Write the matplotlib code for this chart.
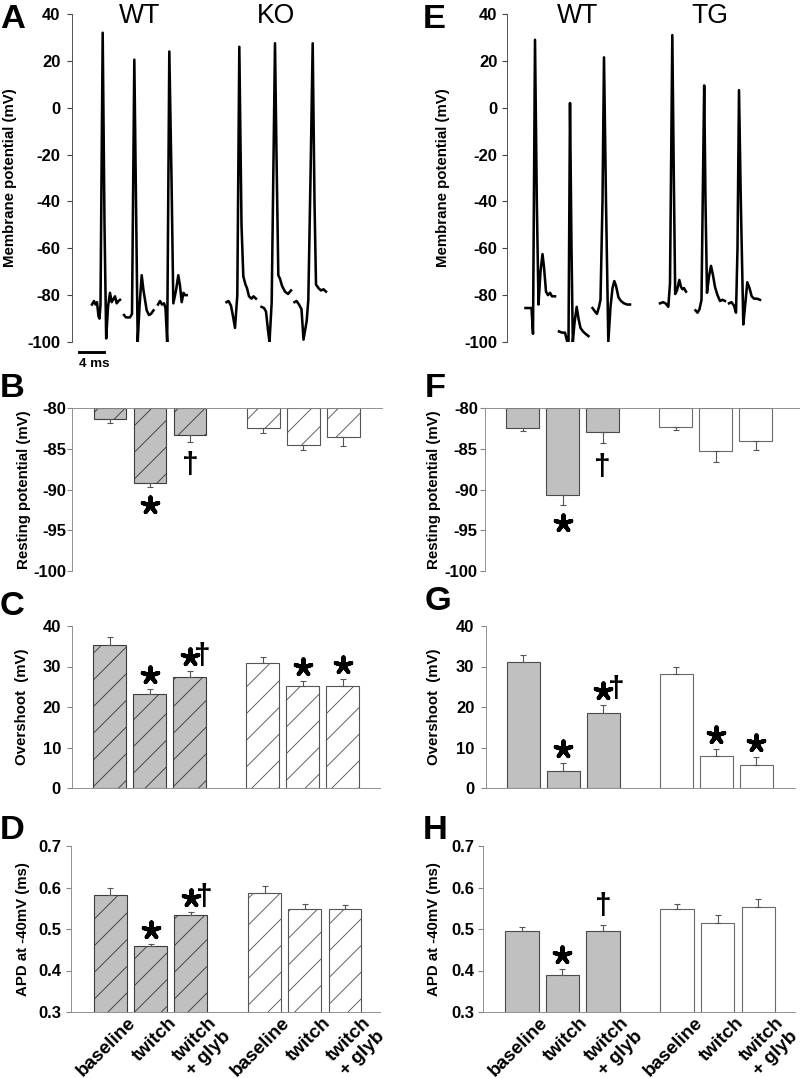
import matplotlib
matplotlib.use("Agg")
import matplotlib.pyplot as plt
from matplotlib.markers import MarkerStyle
from matplotlib.transforms import ScaledTranslation

plt.rcParams["font.family"] = ["Liberation Sans", "DejaVu Sans"]
plt.rcParams["font.weight"] = "bold"
plt.rcParams["hatch.linewidth"] = 0.8

W, H, DPI = 800, 1078, 80

# ---- A: WT vs KO action potentials, time (ms) and membrane potential (mV)
a_wt_t = [
    [3.2, 3.52, 3.76, 4.0, 4.24, 4.4, 4.56, 4.91, 5.2, 5.47, 5.76, 6.08, 6.35, 6.56, 6.88, 7.15, 7.44, 7.68],
    [8.32, 8.64, 9.28, 9.6, 9.97, 10.24, 10.51, 10.8, 11.15, 11.44, 11.95, 12.32, 12.64, 13.04],
    [13.76, 14.08, 14.4, 14.72, 14.96, 15.23, 15.57, 15.92, 16.21, 16.64, 17.01, 17.28, 17.55, 17.84, 18.08, 18.35],
]
a_wt_v = [
    [-84, -82.5, -84, -83, -89, -90, -84, 32, -50, -98.5, -85, -79, -83, -82, -80.5, -83.5, -82.5, -82],
    [-88.5, -89.5, -89.5, -88, 20.5, -40, -100, -85, -71.5, -78, -86.5, -88.5, -88, -86.5],
    [-84, -82.5, -84, -83.5, -85.5, -100, 24, -30, -83.5, -78, -71.5, -76, -83, -79, -80, -80],
]
a_ko_t = [
    [24.72, 25.04, 25.44, 25.76, 26.08, 26.45, 26.77, 27.12, 27.41, 27.76, 28.0, 28.32, 28.72, 29.04, 29.44],
    [30.32, 30.72, 31.04, 31.36, 31.6, 31.95, 32.48, 32.72, 33.01, 33.28, 33.6, 34.08, 34.56, 35.04],
    [35.6, 35.92, 36.32, 36.72, 37.04, 37.55, 37.81, 38.16, 38.51, 38.8, 39.04, 39.44, 39.84, 40.24, 40.64],
]
a_ko_v = [
    [-83, -82.5, -84.5, -89, -94, -80, 26, -50, -72, -75.5, -77, -80.5, -81.5, -80.5, -81.5],
    [-85, -85.5, -87, -95, -100, -83, 27.5, -20, -71.5, -73, -76, -78.5, -79.5, -78],
    [-83, -82.5, -84, -86, -99, -91, -82, -30, 27.5, -40, -75.5, -77, -78, -77.5, -78.5],
]

# ---- E: WT vs TG action potentials
e_wt_t = [
    [2.96, 3.36, 3.92, 4.16, 4.48, 4.77, 5.04, 5.36, 5.68, 5.92, 6.24, 6.56, 6.88, 7.2, 7.68],
    [8.32, 8.8, 9.28, 9.6, 9.84, 10.08, 10.32, 10.53, 10.8, 11.15, 11.44, 11.76, 12.16, 12.56, 13.04],
    [13.68, 14.08, 14.4, 14.72, 14.96, 15.28, 15.52, 15.84, 16.21, 16.56, 16.88, 17.17, 17.44, 17.84, 18.24, 18.72, 19.2, 19.68],
]
e_wt_v = [
    [-85.5, -85.5, -85.5, -96.5, 29, -40, -84, -70, -62.5, -68, -78.5, -80, -79, -80.5, -80.5],
    [-95.5, -96, -96, -99.5, -100, 2, -60, -100, -92, -85, -90, -94, -95.5, -96.5, -97.5],
    [-85.5, -87, -88, -85, -82, -40, 21.5, -40, -100, -85, -77, -74, -76, -81, -82.5, -83.5, -84, -84],
]
e_tg_t = [
    [24.48, 24.96, 25.36, 25.81, 26.08, 26.45, 26.69, 26.91, 27.2, 27.57, 27.84, 28.08, 28.32, 28.64],
    [30.16, 30.48, 30.8, 31.12, 31.36, 31.55, 31.76, 32.0, 32.32, 32.64, 32.96, 33.28, 33.68, 34.08, 34.48, 34.88],
    [35.52, 35.92, 36.32, 36.64, 36.88, 37.12, 37.41, 37.81, 38.08, 38.45, 38.8, 39.15, 39.52, 40.0, 40.48],
]
e_tg_v = [
    [-83.5, -83, -83.5, -85, -75, 31, -30, -79.5, -78, -73.5, -76.5, -77.5, -77, -78.5],
    [-86.5, -87.5, -86, -82, -30, 9.5, -40, -79, -72, -67.5, -71.5, -76.5, -80, -82.5, -82, -82.5],
    [-83.5, -83, -84.5, -87.5, -60, 7.5, -40, -92.5, -85, -74.5, -77, -80.5, -81.5, -81.5, -82],
]

categories = ["baseline", "twitch", "twitch\n+ glyb"]

# ---- bar data: mean and SEM for the 3 conditions, per genotype
rest_ko_wt, rest_ko_wt_err = [-81.35, -89.15, -83.35], [0.5, 0.55, 0.8]
rest_ko_ko, rest_ko_ko_err = [-82.45, -84.5, -83.55], [0.6, 0.65, 1.1]
rest_tg_wt, rest_tg_wt_err = [-82.45, -90.65, -82.9], [0.35, 1.25, 1.4]
rest_tg_tg, rest_tg_tg_err = [-82.35, -85.3, -84.05], [0.3, 1.35, 1.15]

over_ko_wt, over_ko_wt_err = [35.4, 23.1, 27.4], [2.0, 1.3, 1.4]
over_ko_ko, over_ko_ko_err = [30.8, 25.2, 25.1], [1.5, 1.2, 1.7]
over_tg_wt, over_tg_wt_err = [31.0, 4.2, 18.5], [1.8, 2.0, 2.1]
over_tg_tg, over_tg_tg_err = [28.1, 7.9, 5.7], [1.8, 1.8, 2.0]

apd_ko_wt, apd_ko_wt_err = [0.583, 0.458, 0.533], [0.015, 0.007, 0.008]
apd_ko_ko, apd_ko_ko_err = [0.587, 0.547, 0.547], [0.016, 0.014, 0.011]
apd_tg_wt, apd_tg_wt_err = [0.495, 0.390, 0.494], [0.011, 0.013, 0.016]
apd_tg_tg, apd_tg_tg_err = [0.549, 0.515, 0.553], [0.012, 0.018, 0.020]

# significance marks (* vs baseline, dagger vs twitch)
marks_rest = ["", "*", "\u2020", "", "", ""]
marks_over = ["", "*", "*\u2020", "", "*", "*"]
marks_apd_ko = ["", "*", "*\u2020", "", "", ""]
marks_apd_tg = ["", "*", "\u2020", "", "", ""]

fig = plt.figure(figsize=(W / DPI, H / DPI), dpi=DPI)
star = MarkerStyle((5, 2, 0), capstyle="round", joinstyle="round")


def add_ax(l, t, r, b):
    return fig.add_axes([l / W, 1 - b / H, (r - l) / W, (b - t) / H])


def shift(ax, dx_px, dy_px):
    return ax.transData + ScaledTranslation(dx_px / DPI, dy_px / DPI, fig.dpi_scale_trans)


def set_yaxis(ax, ticks, labels, pad, color):
    ax.set_yticks(ticks, labels, fontsize=15, fontweight="bold")
    ax.tick_params(axis="y", direction="out", length=4.5, width=1, color=color, pad=pad)


def trace_panel(ax, groups, titles, xmax, label_x, pad, scalebar=False):
    for tl, vl in groups:
        for t, v in zip(tl, vl):
            ax.plot(t, v, color="black", lw=2.3, solid_joinstyle="round")
    ax.set_xlim(0, xmax)
    ax.set_ylim(-100, 40)
    ticks = list(range(-100, 41, 20))
    set_yaxis(ax, ticks, [str(t) for t in ticks], pad, "#444444")
    ax.set_xticks([])
    for s in ["top", "right", "bottom"]:
        ax.spines[s].set_visible(False)
    ax.spines["left"].set_color("#444444")
    for (tl, vl), title in zip(groups, titles):
        lo = min(min(t) for t in tl)
        hi = max(max(t) for t in tl)
        ax.text((lo + hi) / 2, 36.2, title, ha="center", va="baseline",
                fontsize=24, fontweight="normal")
    ax.set_ylabel("Membrane potential (mV)", fontsize=13.5, fontweight="bold", va="center")
    ax.yaxis.set_label_coords(label_x, 0.5)
    if scalebar:
        ax.plot([1.12, 5.12], [-104.3, -104.3], color="black", lw=2.6, clip_on=False)
        ax.text(1.12, -109.5, "4 ms", ha="left", va="center", fontsize=12, fontweight="bold")


xpos = [0, 1, 2, 3.83, 4.83, 5.83]


def bar_panel(ax, v1, e1, v2, e2, marks, base, ylim, yticks, ylabels, ylabel,
              hatched, xlim, label_x, pad):
    vals = v1 + v2
    errs = e1 + e2
    if hatched:
        styles = [dict(color="#c0c0c0", edgecolor="#3c3c3c", hatch="/")] * 3 + \
                 [dict(color="white", edgecolor="#555555", hatch="/")] * 3
    else:
        styles = [dict(color="#c0c0c0", edgecolor="#4a4a4a")] * 3 + \
                 [dict(color="white", edgecolor="#6a6a6a")] * 3
    for x, v, st in zip(xpos, vals, styles):
        ax.bar(x, v - base, bottom=base, width=0.82, linewidth=1.0, zorder=2, **st)
    down = vals[0] < base
    zeros = [0] * len(errs)
    yerr = [errs, zeros] if down else [zeros, errs]
    ax.errorbar(xpos, vals, yerr=yerr, fmt="none", ecolor="#555555", elinewidth=1,
                capsize=3, capthick=1, zorder=3)
    sgn = -1 if down else 1
    for x, v, e, m in zip(xpos, vals, errs, marks):
        if not m:
            continue
        yend = v + sgn * e
        if "*" in m:
            dy = sgn * (18 if down else 14)
            ax.plot([x], [yend], linestyle="none", marker=star, ms=14.5, mew=3.8,
                    color="black", transform=shift(ax, 0, dy), clip_on=False, zorder=4)
            if "\u2020" in m:
                ax.annotate("\u2020", (x, yend), xytext=(11.7, (dy + 2) * 0.9 - 7.7),
                            textcoords="offset points", ha="center", va="baseline",
                            fontsize=27, fontweight="bold", annotation_clip=False, zorder=4)
        else:
            dy = sgn * (23 if down else 19)
            ax.annotate("\u2020", (x, yend), xytext=(0, dy * 0.9 - 7.7),
                        textcoords="offset points", ha="center", va="baseline",
                        fontsize=27, fontweight="bold", annotation_clip=False, zorder=4)
    ax.set_xlim(*xlim)
    ax.set_ylim(*ylim)
    set_yaxis(ax, yticks, ylabels, pad, "#888888")
    ax.spines["right"].set_visible(False)
    if down:
        ax.spines["bottom"].set_visible(False)
    else:
        ax.spines["top"].set_visible(False)
    for s in ["left", "top", "bottom"]:
        ax.spines[s].set_color("#888888")
    ax.tick_params(axis="x", length=0)
    ax.set_xticks([])
    ax.set_ylabel(ylabel, fontsize=13.5, fontweight="bold", va="center")
    ax.yaxis.set_label_coords(label_x, 0.5)


def bottom_labels(ax):
    ax.set_xticks(xpos)
    ax.set_xticklabels(categories * 2, rotation=45, ha="right", va="top",
                       rotation_mode="anchor", fontsize=17, fontweight="bold")
    ax.tick_params(axis="x", length=0, pad=2)
    off = ScaledTranslation(17 / DPI, 0, fig.dpi_scale_trans)
    for lab in ax.get_xticklabels():
        lab.set_transform(lab.get_transform() + off)


# trace panels
axA = add_ax(72, 14, 395, 342)
trace_panel(axA, [(a_wt_t, a_wt_v), (a_ko_t, a_ko_v)], ["WT", "KO"], (395 - 72) * 0.16,
            (10 - 72) / 323, 6.0, scalebar=True)
axE = add_ax(507, 14, 800, 342)
trace_panel(axE, [(e_wt_t, e_wt_v), (e_tg_t, e_tg_v)], ["WT", "TG"], (800 - 507) * 0.16,
            (443 - 507) / 293, 4.0)

rest_ticks = [-100, -95, -90, -85, -80]
over_ticks = [0, 10, 20, 30, 40]
apd_ticks = [0.3, 0.4, 0.5, 0.6, 0.7]
apd_labels = ["0.3", "0.4", "0.5", "0.6", "0.7"]

axB = add_ax(72, 408, 382, 571)
bar_panel(axB, rest_ko_wt, rest_ko_wt_err, rest_ko_ko, rest_ko_ko_err, marks_rest, -80,
          (-100, -80), rest_ticks, [str(t) for t in rest_ticks], "Resting potential (mV)",
          True, (-0.95, 6.8), (24.5 - 72) / 310, 1.0)
axF = add_ax(485, 408, 800, 571)
bar_panel(axF, rest_tg_wt, rest_tg_wt_err, rest_tg_tg, rest_tg_tg_err, marks_rest, -80,
          (-100, -80), rest_ticks, [str(t) for t in rest_ticks], "Resting potential (mV)",
          False, (-0.94, 6.94), (434 - 485) / 315, 2.0)

axC = add_ax(72, 626, 380, 788)
bar_panel(axC, over_ko_wt, over_ko_wt_err, over_ko_ko, over_ko_ko_err, marks_over, 0,
          (0, 40), over_ticks, [str(t) for t in over_ticks], "Overshoot  (mV)",
          True, (-0.94, 6.76), (22 - 72) / 308, 5.5)
axG = add_ax(486, 626, 795, 788)
bar_panel(axG, over_tg_wt, over_tg_wt_err, over_tg_tg, over_tg_tg_err, marks_over, 0,
          (0, 40), over_ticks, [str(t) for t in over_ticks], "Overshoot  (mV)",
          False, (-0.93, 6.8), (434 - 486) / 309, 6.0)

axD = add_ax(71, 846, 380, 1012)
bar_panel(axD, apd_ko_wt, apd_ko_wt_err, apd_ko_ko, apd_ko_ko_err, marks_apd_ko, 0,
          (0.3, 0.7), apd_ticks, apd_labels, "APD at -40mV (ms)",
          True, (-0.98, 6.7), (23 - 71) / 309, 4.3)
bottom_labels(axD)
axH = add_ax(483, 846, 795, 1012)
bar_panel(axH, apd_tg_wt, apd_tg_wt_err, apd_tg_tg, apd_tg_tg_err, marks_apd_tg, 0,
          (0.3, 0.7), apd_ticks, apd_labels, "APD at -40mV (ms)",
          False, (-0.96, 6.74), (434 - 483) / 312, 3.2)
bottom_labels(axH)

# panel letters
for letter, x, y in [("A", 0, 28), ("B", 0, 397), ("C", 0, 615), ("D", 0, 839),
                     ("E", 423, 28), ("F", 425, 397), ("G", 425, 610), ("H", 423, 839)]:
    fig.text(x / W, 1 - y / H, letter, fontsize=31, fontweight="bold", va="baseline")

fig.savefig("out.png", dpi=DPI)
